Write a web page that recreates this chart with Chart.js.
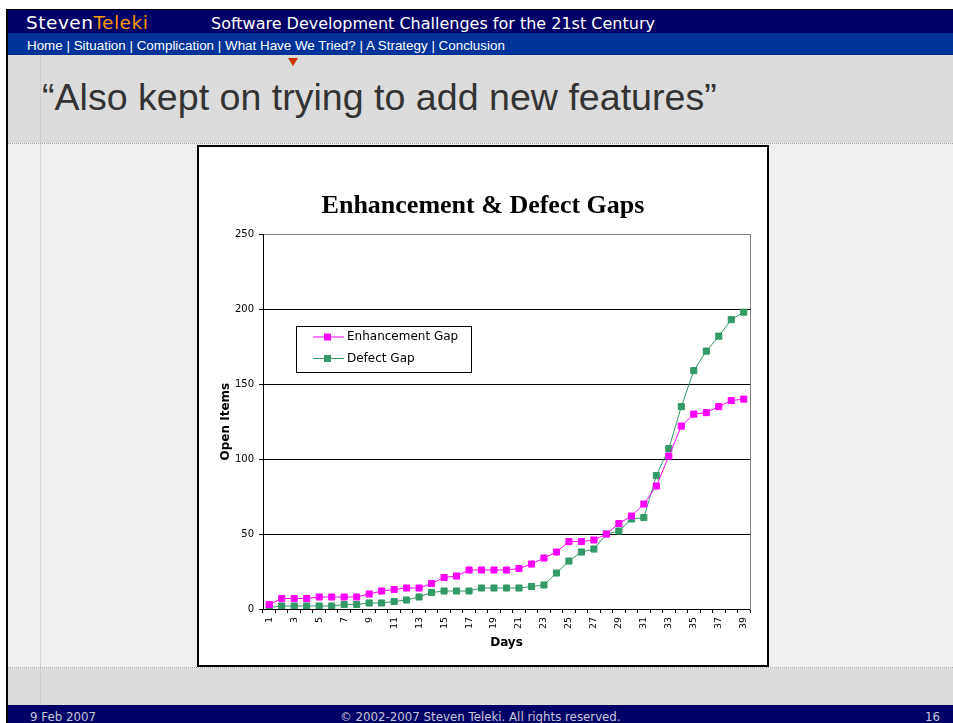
<!DOCTYPE html>
<html>
<head>
<meta charset="utf-8">
<title>Enhancement &amp; Defect Gaps</title>
<script src="https://cdn.jsdelivr.net/npm/chart.js@4.4.1/dist/chart.umd.min.js"></script>
<style>
  body { margin: 0; width: 953px; height: 723px; position: relative; overflow: hidden; background: #fff; font-family: "DejaVu Sans", sans-serif; }
  .abs { position: absolute; }
  .txt { position: absolute; line-height: 1; white-space: nowrap; }
  #frame-left { left: 6px; top: 9px; width: 2px; height: 714px; background: #000; }
  #frame-top { left: 6px; top: 9px; width: 947px; height: 1px; background: #000; }
  #header { left: 8px; top: 10px; width: 945px; height: 23px; background: #000066; }
  #nav { left: 8px; top: 33px; width: 945px; height: 22px; background: #003399; }
  #upper { left: 8px; top: 55px; width: 945px; height: 88px; background: #dcdcdc; }
  #middle { left: 8px; top: 143px; width: 945px; height: 525px; background: #efefef; border-top: 1px dotted #aaa; border-bottom: 1px dotted #aaa; box-sizing: border-box; }
  #lower { left: 8px; top: 668px; width: 945px; height: 37px; background: #dcdcdc; }
  #footer { left: 8px; top: 705px; width: 945px; height: 18px; background: #000066; }
  #vline { left: 40px; top: 55px; width: 0; height: 650px; border-left: 1px dotted #c4c4c4; }
  #marker { left: 288px; top: 58px; width: 0; height: 0; border-left: 5px solid transparent; border-right: 5px solid transparent; border-top: 8px solid #cc3300; }
  #brand { left: 26px; top: 13.5px; font-size: 18.5px; color: #fff; letter-spacing: 0.5px; }
  #brand span { color: #ff9900; }
  #subtitle { left: 211px; top: 16px; font-size: 16px; color: #fff; }
  #menu { left: 27px; top: 38.7px; font-family: "Liberation Sans", Arial, sans-serif; font-size: 13.4px; color: #fff; }
  #heading { left: 42px; top: 78.5px; font-family: "Liberation Sans", Arial, sans-serif; font-size: 37.6px; color: #333; }
  .foot { top: 712px; font-size: 11.8px; color: #c8c8dc; }
  #box { left: 197px; top: 145px; width: 568px; height: 518px; border: 2px solid #000; background: #fff; }
  #box canvas { display: block; }
</style>
</head>
<body>
<div id="frame-left" class="abs"></div>
<div id="frame-top" class="abs"></div>
<div id="header" class="abs"></div>
<div id="nav" class="abs"></div>
<div id="upper" class="abs"></div>
<div id="middle" class="abs"></div>
<div id="lower" class="abs"></div>
<div id="footer" class="abs"></div>
<div id="vline" class="abs"></div>
<div id="marker" class="abs"></div>

<div id="brand" class="txt">Steven<span>Teleki</span></div>
<div id="subtitle" class="txt">Software Development Challenges for the 21st Century</div>
<div id="menu" class="txt">Home | Situation | Complication | What Have We Tried? | A Strategy | Conclusion</div>
<div id="heading" class="txt">“Also kept on trying to add new features”</div>

<div class="txt foot" style="left:30px;">9 Feb 2007</div>
<div class="txt foot" style="left:340px;">© 2002-2007 Steven Teleki. All rights reserved.</div>
<div class="txt foot" style="right:13px;">16</div>

<div id="box" class="abs"><canvas id="gapChart" width="568" height="518"></canvas></div>

<script>
// data
const days = ["1", "2", "3", "4", "5", "6", "7", "8", "9", "10",
  "11", "12", "13", "14", "15", "16", "17", "18", "19", "20",
  "21", "22", "23", "24", "25", "26", "27", "28", "29", "30",
  "31", "32", "33", "34", "35", "36", "37", "38", "39"];
const enhancementGap = [3, 7, 7, 7, 8, 8, 8, 8, 10, 12,
  13, 14, 14, 17, 21, 22, 26, 26, 26, 26,
  27, 30, 34, 38, 45, 45, 46, 50, 57, 62,
  70, 82, 102, 122, 130, 131, 135, 139, 140];
const defectGap = [1, 2, 2, 2, 2, 2, 3, 3, 4, 4,
  5, 6, 8, 11, 12, 12, 12, 14, 14, 14,
  14, 15, 16, 24, 32, 38, 40, 50, 52, 60,
  61, 89, 107, 135, 159, 172, 182, 193, 198];
const yTicks = [0, 50, 100, 150, 200, 250];
const seriesNames = ["Enhancement Gap", "Defect Gap"];

Chart.defaults.font.family = "'DejaVu Sans', sans-serif";
Chart.defaults.color = "#000";

// boxed legend sitting inside the plot, like the Excel one
const boxLegend = {
  id: "boxLegend",
  afterDraw(chart) {
    const { ctx } = chart;
    const x = 97, y = 179, w = 175, h = 46;
    ctx.save();
    ctx.fillStyle = "#fff";
    ctx.fillRect(x, y, w, h);
    ctx.strokeStyle = "#000";
    ctx.lineWidth = 1;
    ctx.strokeRect(x + 0.5, y + 0.5, w, h);
    ctx.font = "12px 'DejaVu Sans'";
    ctx.textBaseline = "middle";
    chart.data.datasets.forEach((ds, i) => {
      const cy = y + 11 + i * 21.5;
      ctx.strokeStyle = ds.borderColor;
      ctx.beginPath();
      ctx.moveTo(x + 17, cy);
      ctx.lineTo(x + 48, cy);
      ctx.stroke();
      ctx.fillStyle = ds.pointBackgroundColor;
      ctx.fillRect(x + 28, cy - 3.5, 7, 7);
      ctx.fillStyle = "#000";
      ctx.fillText(ds.label, x + 51, cy);
    });
    ctx.restore();
  }
};

const seriesStyle = (color) => ({
  borderColor: color,
  backgroundColor: color,
  pointBackgroundColor: color,
  pointBorderColor: color,
  borderWidth: 1,
  pointStyle: "rect",
  pointRadius: 4.3,
  pointBorderWidth: 1,
  tension: 0,
  fill: false
});

new Chart(document.getElementById("gapChart"), {
  type: "line",
  data: {
    labels: days,
    datasets: [
      { label: seriesNames[0], data: enhancementGap, ...seriesStyle("#ff00ff") },
      { label: seriesNames[1], data: defectGap, ...seriesStyle("#339966") }
    ]
  },
  options: {
    responsive: false,
    animation: false,
    events: [],
    layout: { padding: 0 },
    plugins: {
      legend: { display: false },
      tooltip: { enabled: false },
      title: {
        display: true,
        text: "Enhancement & Defect Gaps",
        color: "#000",
        font: { family: "'Liberation Serif', 'Times New Roman', serif", size: 26, weight: "bold" },
        padding: { top: 44, bottom: 12 }
      }
    },
    scales: {
      x: {
        offset: true,
        grid: { offset: true, drawOnChartArea: false, drawTicks: true, tickLength: 4, color: "#000" },
        border: { color: "#000", width: 1 },
        ticks: {
          autoSkip: false,
          minRotation: 90,
          maxRotation: 90,
          padding: 4,
          font: { size: 9.5 },
          callback: (value, index) => (index % 2 === 0 ? days[index] : "")
        },
        title: {
          display: true,
          text: "Days",
          font: { size: 12, weight: "bold" },
          padding: { top: 4, bottom: 15 }
        },
        afterFit: (scale) => { scale.height = 56; }
      },
      y: {
        min: 0,
        max: 250,
        afterBuildTicks: (scale) => { scale.ticks = yTicks.map((v) => ({ value: v })); },
        grid: {
          color: (ctx) => (ctx.tick && ctx.tick.value === 250 ? "#808080" : "#000"),
          tickColor: "#000",
          tickLength: 4
        },
        border: { color: "#000", width: 1 },
        ticks: { padding: 5, font: { size: 10 } },
        title: {
          display: true,
          text: "Open Items",
          font: { size: 12, weight: "bold" },
          padding: { top: 20, bottom: 4 }
        },
        afterFit: (scale) => { scale.width = 64; }
      },
      // empty right axis: gives the grey right edge of the plot and the right margin
      yRight: {
        position: "right",
        display: true,
        min: 0,
        max: 250,
        grid: { drawOnChartArea: false, drawTicks: false },
        border: { color: "#808080", width: 1 },
        ticks: { display: false },
        afterFit: (scale) => { scale.width = 17; }
      }
    }
  },
  plugins: [boxLegend]
});
</script>
</body>
</html>
